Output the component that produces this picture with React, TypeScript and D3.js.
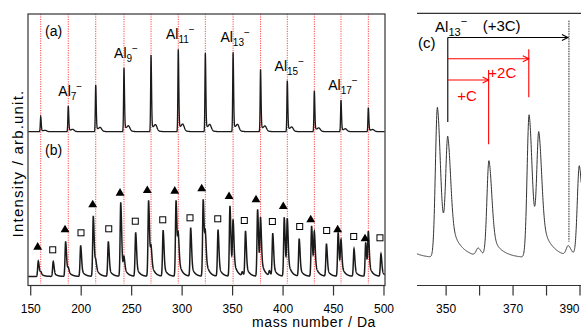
import React from 'react';
import * as d3 from 'd3';

// Al_n^- cluster sizes marked by the red dotted lines
const clusterN = [6, 7, 8, 9, 10, 11, 12, 13, 14, 15, 16, 17, 18];
// measured peak positions (Da) of the Al_n^- series
const alMass = [159.9, 187.2, 214.4, 242.4, 269.2, 296.2, 323.0, 350.5, 377.7, 404.2, 431.0, 457.4, 484.5];
// (a) heights of the Al_n^- peaks
const alHeightA = [15, 25.7, 46.7, 64, 76.7, 82.4, 79, 79.4, 62.4, 51.2, 41, 31.7, 24];
// (b) heights of the Al_n^- peaks
const alHeightB = [3, 5, 9, 13, 21, 32, 33, 50, 52, 52, 39, 32, 41];

// (b) triangle-marked peaks
const triMass = [157.5, 184.6, 212.0, 239.2, 266.8, 294.0, 320.9, 347.4, 374.8, 401.2, 428.3, 454.6, 481.9];
const triHeight = [15.5, 35, 60.5, 74, 76, 76, 77, 70.5, 67, 59, 50.5, 44, 34];
// (b) square-marked peaks
const sqMass = [172.3, 199.5, 226.9, 254.0, 281.2, 308.5, 335.6, 362.8, 389.8, 416.0, 443.0, 470.3, 497.0];
const sqHeight = [15, 31, 35, 44, 46, 48.5, 46.5, 45, 42.5, 37.5, 32.5, 27.5, 22.5];
// small extra peaks
const minorMass = [359.6, 386.5];
const minorHeight = [3.7, 4.7];

// marker placement in (b)
const triMarkMass = [156.9, 184.0, 211.4, 238.5, 265.5, 292.7, 319.4, 346.5, 373.2, 400.2, 427.4, 454.1, 481.2];
const triMarkLevel = [29.3, 46.7, 71.7, 83.3, 86, 85.3, 87.7, 80, 76.7, 70, 56.7, 46.7, 37.7];
const sqMarkMass = [171.8, 199.8, 227.3, 253.6, 280.8, 307.8, 335.3, 361.6, 389.4, 416.5, 443.2, 470.0, 496.0];
const sqMarkLevel = [26.7, 43.7, 47.7, 55.3, 56.7, 58.7, 57.7, 56, 55, 50, 46, 40, 38.7];

const ticksL = [150, 200, 250, 300, 350, 400, 450, 500];
const ticksC = [350, 360, 370, 380, 390];
const ticksCLabel = [350, 370, 390];
const labeledN = [7, 9, 11, 13, 15, 17];

// (c) carbon additions to Al13^-
const carbonMass = [362.7, 374.7, 386.7];

const FONT = "'Liberation Sans', Arial, Helvetica, sans-serif";

type Peak = { m: number; h: number };

const profile = (d: number, wl: number, wr: number, tail: number, tau: number) => {
  if (d < 0) return Math.exp(-0.5 * (d / wl) ** 2);
  return (1 - tail) * Math.exp(-0.5 * (d / wr) ** 2) + tail * Math.exp(-d / tau);
};

const peaksA: Peak[] = alMass.map((m, i) => ({ m, h: alHeightA[i] }));
const peaksB: Peak[] = [
  ...alMass.map((m, i) => ({ m, h: alHeightB[i] })),
  ...triMass.map((m, i) => ({ m, h: triHeight[i] })),
  ...sqMass.map((m, i) => ({ m, h: sqHeight[i] })),
  ...minorMass.map((m, i) => ({ m, h: minorHeight[i] })),
];

const specA = (m: number) =>
  peaksA.reduce((s, p) => {
    const d = m - p.m;
    if (d < -5 || d > 25) return s;
    const shoulder = 0.07 * Math.exp(-0.5 * ((d - 4.5) / 1.4) ** 2);
    return s + p.h * (profile(d, 0.4, 0.5, 0.1, 3) + shoulder);
  }, 0);

const specB = (m: number) =>
  peaksB.reduce((s, p) => {
    const d = m - p.m;
    if (d < -5 || d > 25) return s;
    return s + p.h * profile(d, 0.6, 0.85, 0.28, 3);
  }, 0);

export default function App() {
  const xL = d3.scaleLinear().domain([147.3, 501]).range([28, 385]);
  const yA = d3.scaleLinear().domain([0, 100]).range([131.7, 31.7]);
  const yB = d3.scaleLinear().domain([0, 100]).range([276.5, 176.5]);
  const xC = d3.scaleLinear().domain([341.3, 390.3]).range([417, 581]);
  const yC = d3.scaleLinear().domain([0, 100]).range([258, 45]);

  const gridL = d3.range(147.5, 500.8, 0.1);
  const gridC = d3.range(341.3, 390.4, 0.05);

  const lineA = d3.line<number>().x((m) => xL(m)).y((m) => yA(specA(m)))(gridL) || '';
  const lineB = d3.line<number>().x((m) => xL(m)).y((m) => yB(specB(m)))(gridL) || '';
  const lineC = d3.line<number>().x((m) => xC(m)).y((m) => yC(specB(m)))(gridC) || '';

  const tri = d3.symbol(d3.symbolTriangle, 34)() || '';

  const top = 14;
  const bottom = 285.5;
  const x0 = xC(alMass[7]);

  const arrow = (x1: number, x2: number, y: number, color: string) => (
    <g stroke={color} strokeWidth={1.1} fill="none">
      <line x1={x1} x2={x2} y1={y} y2={y} />
      <polyline points={`${x2 - 6},${y - 3} ${x2},${y} ${x2 - 6},${y + 3}`} />
    </g>
  );

  return (
    <svg width={581} height={329} style={{ position: 'absolute', left: 0, top: 0 }} fontFamily={FONT}>
      <rect width={581} height={329} fill="#fff" />
      <defs>
        <clipPath id="clipC">
          <rect x={417} y={14} width={164} height={272} />
        </clipPath>
      </defs>

      {/* left panel: (a) and (b) */}
      {alMass.map((m, i) => (
        <line key={clusterN[i]} x1={xL(m)} x2={xL(m)} y1={top} y2={bottom - 2}
          stroke="#ff2a2a" strokeWidth={1} strokeDasharray="1.2 1.2" opacity={0.85} />
      ))}
      <path d={lineA} fill="none" stroke="#1a1a1a" strokeWidth={1.3} />
      <path d={lineB} fill="none" stroke="#1a1a1a" strokeWidth={1.5} />
      {triMarkMass.map((m, i) => (
        <path key={'t' + i} d={tri} transform={`translate(${xL(m)},${yB(triMarkLevel[i])})`} fill="#000" />
      ))}
      {sqMarkMass.map((m, i) => (
        <rect key={'s' + i} x={xL(m) - 3} y={yB(sqMarkLevel[i]) - 3} width={6} height={6}
          fill="#fff" stroke="#000" strokeWidth={1} />
      ))}
      {labeledN.map((n) => {
        const i = clusterN.indexOf(n);
        return (
          <text key={n} x={xL(alMass[i]) + 2} y={yA(alHeightA[i]) - 10} fontSize={14} textAnchor="middle" fill="#000">
            Al<tspan fontSize={10} dy={4}>{n}</tspan><tspan fontSize={10} dy={-10}>−</tspan>
          </text>
        );
      })}
      <text x={45} y={36} fontSize={14}>(a)</text>
      <text x={45} y={155} fontSize={14}>(b)</text>

      <rect x={28} y={top} width={357} height={bottom - top} fill="none" stroke="#333" strokeWidth={1.2} />
      {ticksL.map((t) => (
        <g key={t}>
          <line x1={xL(t)} x2={xL(t)} y1={bottom} y2={bottom + 10} stroke="#333" strokeWidth={1.2} />
          <text x={xL(t)} y={312.5} fontSize={12} textAnchor="middle">{t}</text>
        </g>
      ))}
      <text x={314} y={327} fontSize={14} letterSpacing={0.6} textAnchor="middle">mass number / Da</text>
      <text transform="translate(23,163.5) rotate(-90)" fontSize={15} letterSpacing={1.2} textAnchor="middle">
        Intensity / arb.unit.
      </text>

      {/* right panel: (c) */}
      <path d={lineC} fill="none" stroke="#333" strokeWidth={1} clipPath="url(#clipC)" />
      <line x1={417} x2={581} y1={13.3} y2={13.3} stroke="#333" strokeWidth={1.2} />
      <line x1={417} x2={581} y1={bottom} y2={bottom} stroke="#333" strokeWidth={1.2} />
      {ticksC.map((t) => (
        <line key={t} x1={xC(t)} x2={xC(t)} y1={bottom} y2={bottom + 10} stroke="#333" strokeWidth={1.2} />
      ))}
      {ticksCLabel.map((t) => (
        <text key={t} x={Math.min(xC(t), 569.5)} y={312.5} fontSize={12} textAnchor="middle">{t}</text>
      ))}

      <line x1={x0} x2={x0} y1={37.5} y2={122} stroke="#000" strokeWidth={1.1} />
      {arrow(x0, xC(carbonMass[2]) - 1, 37.5, '#000')}
      <line x1={xC(carbonMass[2])} x2={xC(carbonMass[2])} y1={20.7} y2={241.7}
        stroke="#222" strokeWidth={1} strokeDasharray="1.5 1" />
      {arrow(x0, xC(carbonMass[1]), 58.7, '#ff0000')}
      <line x1={xC(carbonMass[1])} x2={xC(carbonMass[1])} y1={49.3} y2={97.3} stroke="#ff0000" strokeWidth={1.1} />
      {arrow(x0, xC(carbonMass[0]), 80, '#ff0000')}
      <line x1={xC(carbonMass[0])} x2={xC(carbonMass[0])} y1={70} y2={144.3} stroke="#ff0000" strokeWidth={1.1} />

      <text x={x0 - 12.7} y={31.7} fontSize={15}>
        Al<tspan fontSize={11} dy={4}>13</tspan><tspan fontSize={11} dy={-11}>−</tspan>
      </text>
      <text x={482.7} y={31} fontSize={15}>(+3C)</text>
      <text x={418} y={47.5} fontSize={15}>(c)</text>
      <text x={488.3} y={78} fontSize={15} fill="#ff0000">+2C</text>
      <text x={457.3} y={101} fontSize={15} fill="#ff0000">+C</text>
    </svg>
  );
}
